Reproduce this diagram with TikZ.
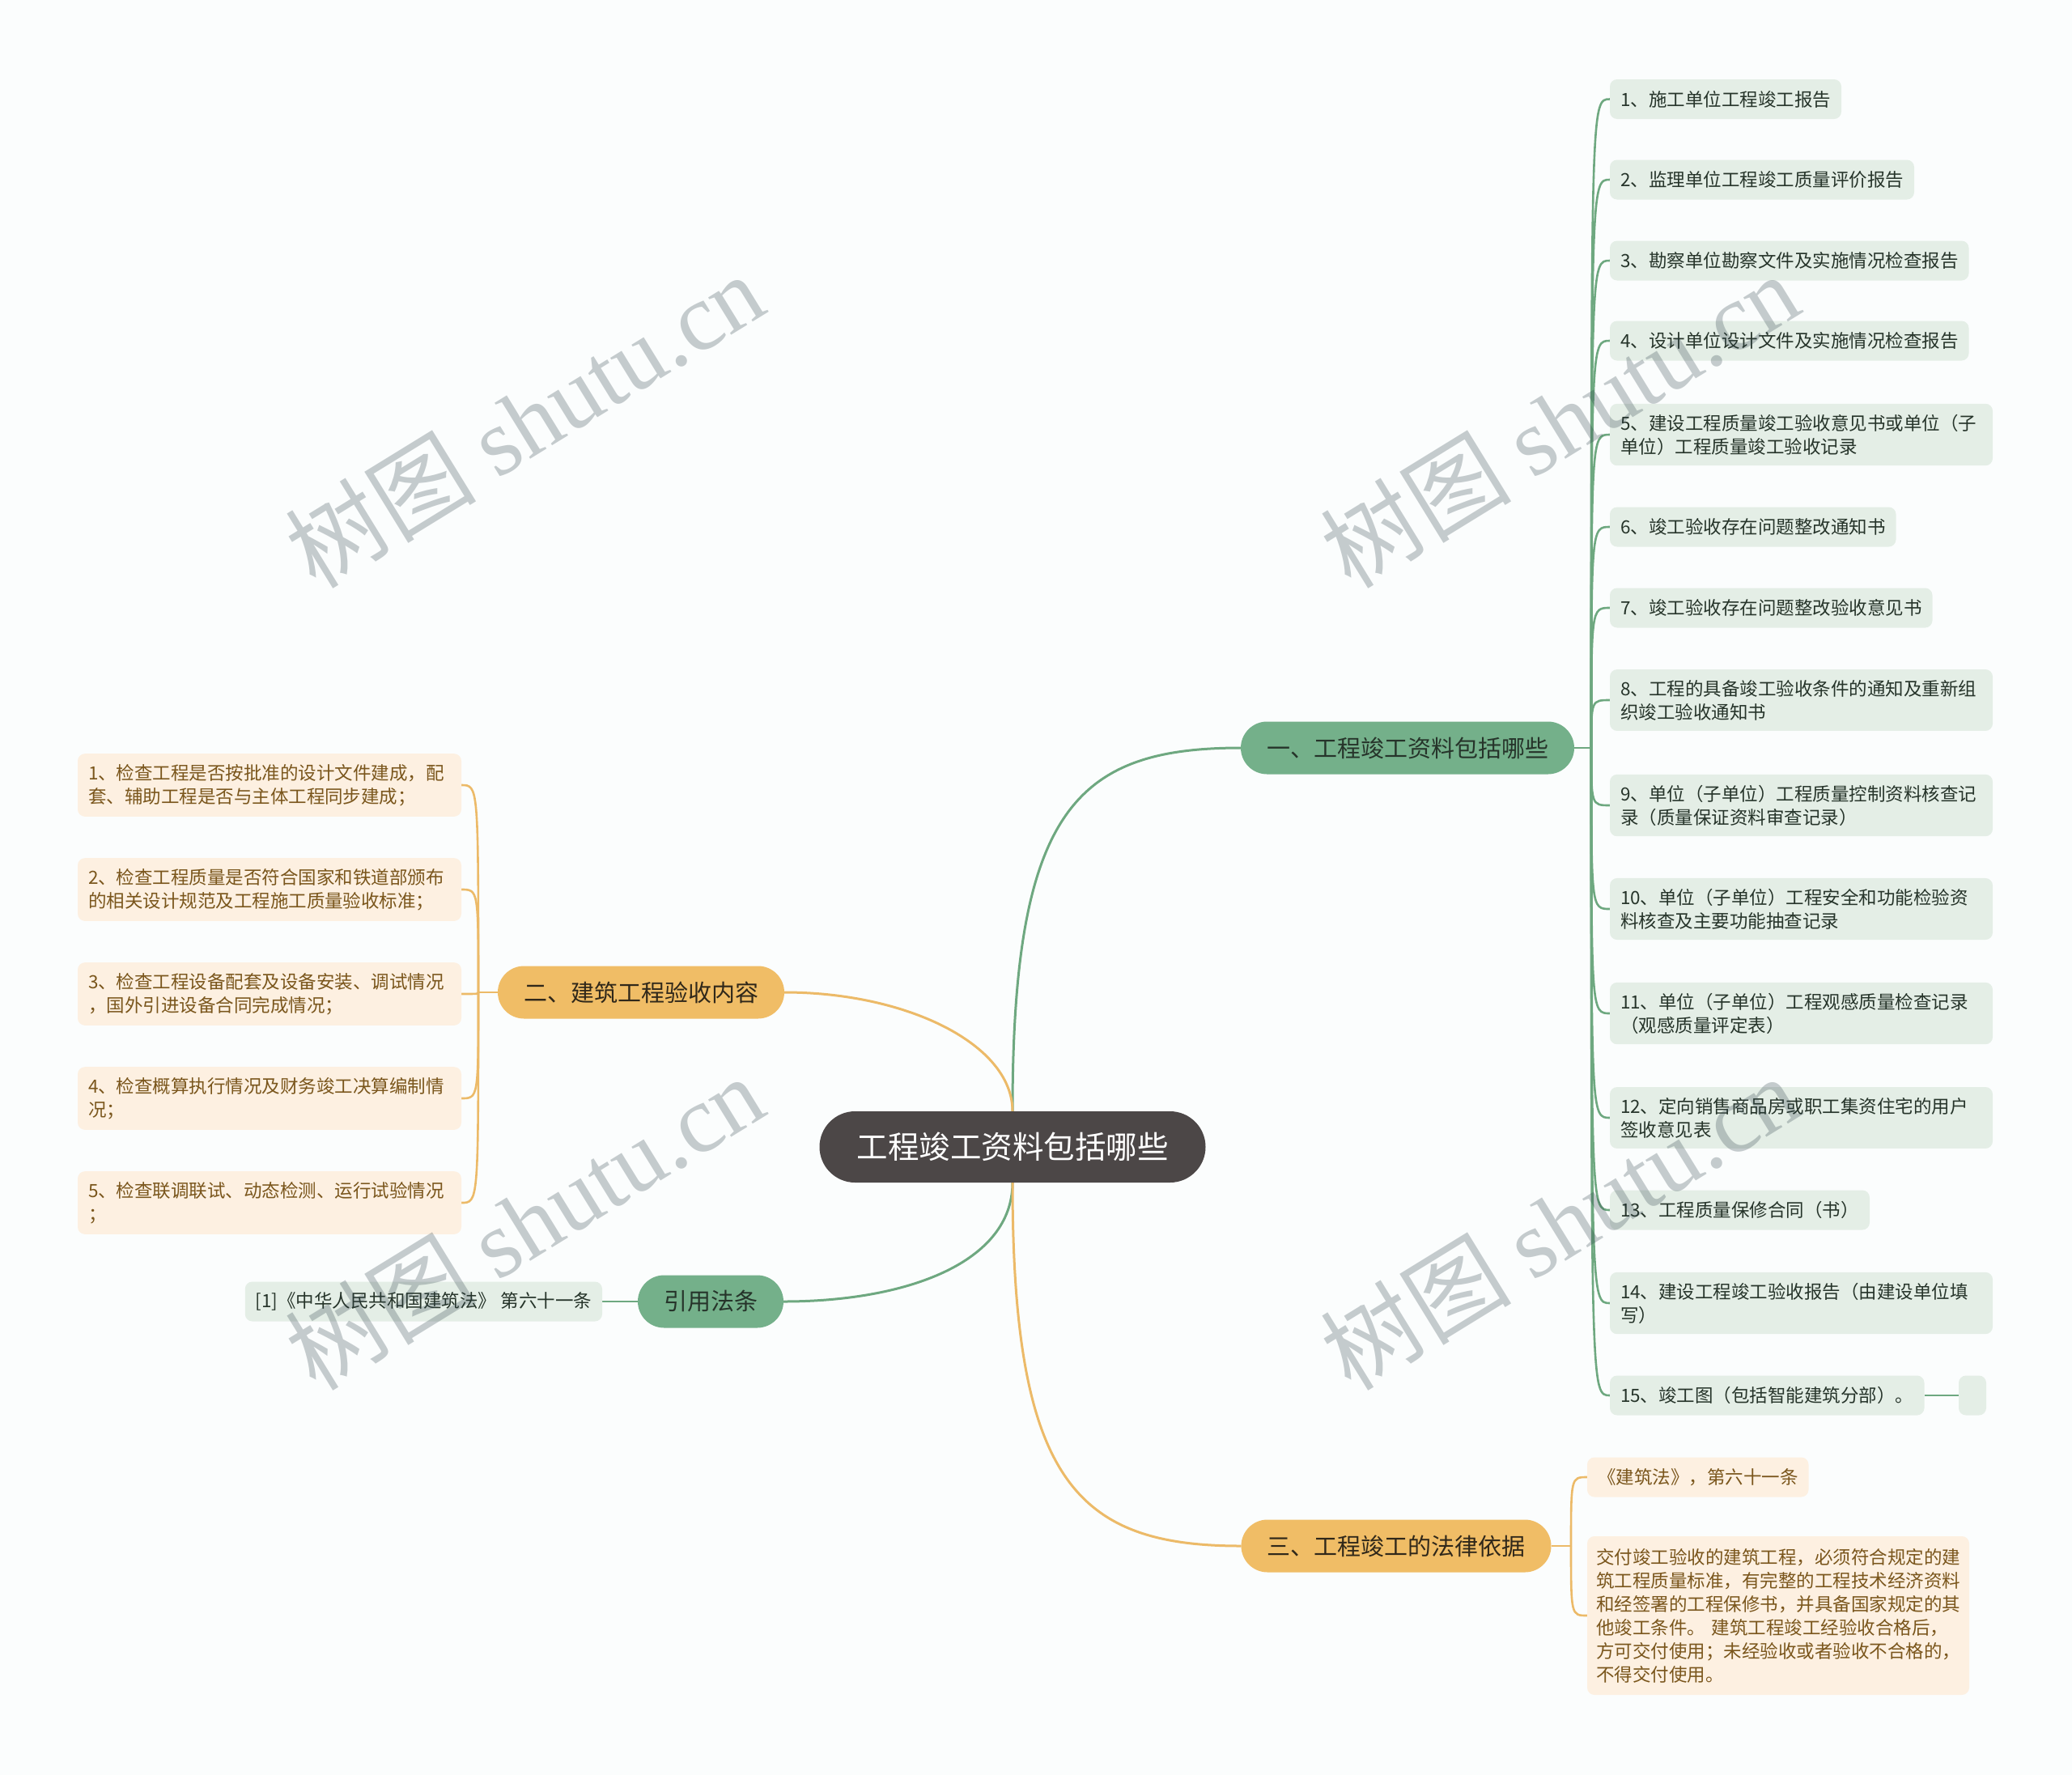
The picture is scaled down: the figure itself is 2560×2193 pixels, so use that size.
\documentclass[tikz,border=0pt]{standalone}
\usepackage{fontspec}
\setmainfont{Noto Sans CJK SC}
\newfontfamily\wmserif{Liberation Serif}
\usetikzlibrary{calc}
\pgfdeclarelayer{bglayer}
\pgfsetlayers{bglayer,main}

\definecolor{bgc}{RGB}{251,253,253}
\definecolor{centfill}{RGB}{76,71,71}
\definecolor{gfill}{RGB}{116,176,138}
\definecolor{gline}{RGB}{110,168,128}
\definecolor{gleaf}{RGB}{228,238,230}
\definecolor{gtext}{RGB}{38,52,42}
\definecolor{ofill}{RGB}{240,189,102}
\definecolor{oline}{RGB}{236,186,104}
\definecolor{oleaf}{RGB}{253,240,225}
\definecolor{otext}{RGB}{122,86,28}
\definecolor{btext}{RGB}{48,40,26}
\definecolor{wmc}{RGB}{40,60,68}

\begin{document}
\begin{tikzpicture}[x=1pt,y=-1pt,
  every node/.style={inner sep=0pt,outer sep=0pt},
  central/.style={fill=centfill,text=white,rounded corners=44pt,minimum height=88pt,inner xsep=46pt,font=\fontsize{38.5}{46}\selectfont},
  gbranch/.style={fill=gfill,text=gtext,rounded corners=32.5pt,minimum height=65pt,inner xsep=32pt,font=\fontsize{29}{35}\selectfont},
  obranch/.style={fill=ofill,text=btext,rounded corners=32.5pt,minimum height=65pt,inner xsep=32pt,font=\fontsize{29}{35}\selectfont},
  leafbase/.style={rounded corners=9pt,inner xsep=13pt,inner ysep=13pt,minimum height=49pt,font=\fontsize{22.5}{29}\selectfont,align=left},
  gleafbox/.style={leafbase,fill=gleaf,text=gtext,anchor=west},
  gleafwide/.style={gleafbox,text width=447pt},
  oleafbox/.style={leafbase,fill=oleaf,text=otext},
  oleafwide/.style={oleafbox,text width=448pt,anchor=east},
  gconn/.style={draw=gline,line width=3pt},
  oconn/.style={draw=oline,line width=3pt},
  gsub/.style={draw=gline,line width=2.6pt},
  osub/.style={draw=oline,line width=2.6pt},
  wmark/.style={text=wmc,text opacity=0.26,rotate=31.6,font=\fontsize{118}{118}\selectfont}
]
\useasboundingbox (0,0) rectangle (2560,2193);
\begin{pgfonlayer}{bglayer}
  \fill[bgc] (0,0) rectangle (2560,2193);
\end{pgfonlayer}

% central and branches
\node[central] (c) at (1251,1417) {工程竣工资料包括哪些};
\node[gbranch] (b1) at (1739,924) {一、工程竣工资料包括哪些};
\node[obranch] (b2) at (792,1226) {二、建筑工程验收内容};
\node[gbranch] (b4) at (878,1608) {引用法条};
\node[obranch] (b3) at (1725,1910) {三、工程竣工的法律依据};

% right leaves of branch 1
\node[gleafbox] (r1) at (1989,122.5) {1、施工单位工程竣工报告};
\node[gleafbox] (r2) at (1989,222) {2、监理单位工程竣工质量评价报告};
\node[gleafbox] (r3) at (1989,322) {3、勘察单位勘察文件及实施情况检查报告};
\node[gleafbox] (r4) at (1989,421) {4、设计单位设计文件及实施情况检查报告};
\node[gleafwide] (r5) at (1989,537) {5、建设工程质量竣工验收意见书或单位（子\\单位）工程质量竣工验收记录};
\node[gleafbox] (r6) at (1989,651) {6、竣工验收存在问题整改通知书};
\node[gleafbox] (r7) at (1989,751) {7、竣工验收存在问题整改验收意见书};
\node[gleafwide] (r8) at (1989,865) {8、工程的具备竣工验收条件的通知及重新组\\织竣工验收通知书};
\node[gleafwide] (r9) at (1989,995) {9、单位（子单位）工程质量控制资料核查记\\录（质量保证资料审查记录）};
\node[gleafwide] (r10) at (1989,1123) {10、单位（子单位）工程安全和功能检验资\\料核查及主要功能抽查记录};
\node[gleafwide] (r11) at (1989,1252) {11、单位（子单位）工程观感质量检查记录\\（观感质量评定表）};
\node[gleafwide] (r12) at (1989,1381) {12、定向销售商品房或职工集资住宅的用户\\签收意见表};
\node[gleafbox] (r13) at (1989,1495) {13、工程质量保修合同（书）};
\node[gleafwide] (r14) at (1989,1610) {14、建设工程竣工验收报告（由建设单位填\\写）};
\node[gleafbox] (r15) at (1989,1724) {15、竣工图（包括智能建筑分部）。};
\node[gleafbox,inner xsep=0pt,minimum width=34pt] (e15) at (2420,1724) {};

% left leaves of branch 2
\node[oleafwide] (l1) at (570,970) {1、检查工程是否按批准的设计文件建成，配\\套、辅助工程是否与主体工程同步建成；};
\node[oleafwide] (l2) at (570,1099) {2、检查工程质量是否符合国家和铁道部颁布\\的相关设计规范及工程施工质量验收标准；};
\node[oleafwide] (l3) at (570,1228) {3、检查工程设备配套及设备安装、调试情况\\，国外引进设备合同完成情况；};
\node[oleafwide] (l4) at (570,1357) {4、检查概算执行情况及财务竣工决算编制情\\况；};
\node[oleafwide] (l5) at (570,1486) {5、检查联调联试、动态检测、运行试验情况\\；};

% cited law
\node[leafbase,fill=gleaf,text=gtext,anchor=east] (q1) at (744,1608) {[1]《中华人民共和国建筑法》 第六十一条};

% leaves of branch 3
\node[oleafbox,anchor=west] (k1) at (1961,1825) {《建筑法》，第六十一条};
\node[oleafbox,anchor=west,text width=450pt,inner xsep=11pt,inner ysep=15pt] (k2) at (1961,1996) {交付竣工验收的建筑工程，必须符合规定的建\\筑工程质量标准，有完整的工程技术经济资料\\和经签署的工程保修书，并具备国家规定的其\\他竣工条件。 建筑工程竣工经验收合格后，\\方可交付使用；未经验收或者验收不合格的，\\不得交付使用。};

\coordinate (t1) at (1966,924);
\coordinate (t2) at (591,1226);
\coordinate (t3) at (1941,1910);

\begin{pgfonlayer}{bglayer}
  % main curves
  \draw[gconn] (c.north) .. controls (1251,1000) and (1330,924) .. (b1.west);
  \draw[oconn] (c.north) .. controls (1251,1290) and (1120,1226) .. (b2.east);
  \draw[gconn] (c.south) .. controls (1251,1560) and (1120,1608) .. (b4.east);
  \draw[oconn] (c.south) .. controls (1251,1830) and (1330,1910) .. (b3.west);
  % branch 1 subs
  \draw[gsub] (b1.east) -- (t1);
  \foreach \n in {r1,r2,r3,r4,r5,r6,r7,r8,r9,r10,r11,r12,r13,r14,r15}
    \draw[gsub] (t1) .. controls (t1 |- \n.west) .. (\n.west);
  \draw[gsub] (r15.east) -- (e15.west);
  % branch 2 subs
  \draw[osub] (b2.west) -- (t2);
  \foreach \n in {l1,l2,l3,l4,l5}
    \draw[osub] (t2) .. controls (t2 |- \n.east) .. (\n.east);
  % cited law
  \draw[gsub] (b4.west) -- (q1.east);
  % branch 3 subs
  \draw[osub] (b3.east) -- (t3);
  \foreach \n in {k1,k2}
    \draw[osub] (t3) .. controls (t3 |- \n.west) .. (\n.west);
\end{pgfonlayer}

% watermarks
\node[wmark] (wm1) at (648,519) {树图 {\wmserif shutu.cn}};
\node[wmark] (wm2) at (1927,519) {树图 {\wmserif shutu.cn}};
\node[wmark] (wm3) at (648,1510) {树图 {\wmserif shutu.cn}};
\node[wmark] (wm4) at (1927,1510) {树图 {\wmserif shutu.cn}};
\end{tikzpicture}
\end{document}
